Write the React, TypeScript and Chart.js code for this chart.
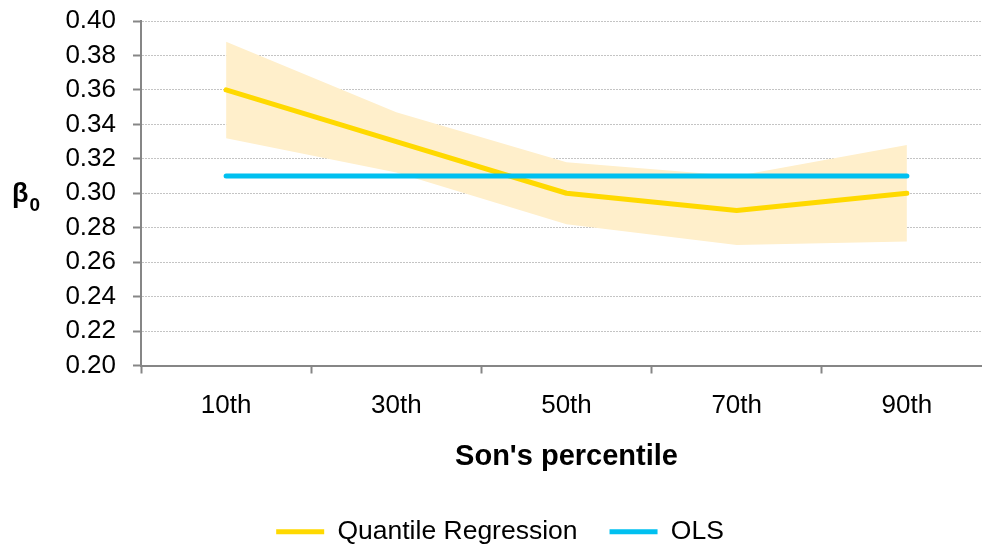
import React, { useEffect, useRef } from 'react';
import { Chart, registerables } from 'chart.js';

Chart.register(...registerables);

const categories = ['10th', '30th', '50th', '70th', '90th'];
const quantileRegression = [0.36, 0.33, 0.3, 0.29, 0.3];
const upperBound = [0.388, 0.347, 0.318, 0.31, 0.328];
const lowerBound = [0.332, 0.312, 0.282, 0.27, 0.272];
const ols = [0.31, 0.31, 0.31, 0.31, 0.31];
const yMin = 0.2;
const yMax = 0.4;
const yStep = 0.02;

const FONT = '"Liberation Sans", Arial, sans-serif';
const YELLOW = '#FFD900';
const BLUE = '#00C0F0';
const BAND = '#FFEFCB';
const AXIS = '#868686';

const betaTitle = {
  id: 'betaTitle',
  afterDraw(chart: any) {
    const { ctx, chartArea } = chart;
    const cy = (chartArea.top + chartArea.bottom) / 2;
    ctx.save();
    ctx.fillStyle = '#000';
    ctx.textAlign = 'left';
    ctx.textBaseline = 'alphabetic';
    ctx.font = `bold 27px ${FONT}`;
    ctx.fillText('β', 12, cy + 9);
    const w = ctx.measureText('β').width;
    ctx.font = `bold 19px ${FONT}`;
    ctx.fillText('0', 12 + w + 1, cy + 18);
    ctx.restore();
  },
};

export default function App() {
  const ref = useRef<HTMLCanvasElement | null>(null);

  useEffect(() => {
    if (!ref.current) return;
    const chart = new Chart(ref.current, {
      type: 'line',
      data: {
        labels: categories,
        datasets: [
          {
            label: 'Quantile Regression',
            data: quantileRegression,
            borderColor: YELLOW,
            backgroundColor: YELLOW,
            borderWidth: 5,
            borderCapStyle: 'round',
            borderJoinStyle: 'round',
            pointRadius: 0,
            fill: false,
            order: 1,
          },
          {
            label: 'OLS',
            data: ols,
            borderColor: BLUE,
            backgroundColor: BLUE,
            borderWidth: 5,
            borderCapStyle: 'round',
            pointRadius: 0,
            fill: false,
            order: 0,
          },
          {
            label: 'upper',
            data: upperBound,
            borderWidth: 0,
            borderColor: 'rgba(0,0,0,0)',
            backgroundColor: BAND,
            pointRadius: 0,
            fill: 3,
            order: 2,
          },
          {
            label: 'lower',
            data: lowerBound,
            borderWidth: 0,
            borderColor: 'rgba(0,0,0,0)',
            backgroundColor: BAND,
            pointRadius: 0,
            fill: false,
            order: 3,
          },
        ],
      },
      options: {
        animation: false,
        responsive: true,
        maintainAspectRatio: false,
        events: [],
        layout: { padding: { top: 21, right: 8, left: 8, bottom: 0 } },
        plugins: {
          filler: { drawTime: 'beforeDatasetsDraw' },
          tooltip: { enabled: false },
          legend: {
            position: 'bottom',
            labels: {
              boxWidth: 48,
              boxHeight: 5,
              padding: 32,
              color: '#000',
              font: { family: FONT, size: 26.5 },
              generateLabels: () => [
                { text: 'Quantile Regression', fillStyle: YELLOW, strokeStyle: YELLOW, lineWidth: 0, hidden: false, datasetIndex: 0 },
                { text: 'OLS', fillStyle: BLUE, strokeStyle: BLUE, lineWidth: 0, hidden: false, datasetIndex: 1 },
              ],
            },
          },
        },
        scales: {
          x: {
            type: 'category',
            offset: true,
            grid: {
              display: true,
              drawOnChartArea: false,
              offset: true,
              drawTicks: true,
              tickLength: 8,
              tickColor: AXIS,
              tickWidth: 2,
            },
            border: { display: true, color: AXIS, width: 2 },
            ticks: { color: '#000', font: { family: FONT, size: 26 }, padding: 17, maxRotation: 0 },
            title: {
              display: true,
              text: "Son's percentile",
              color: '#000',
              font: { family: FONT, size: 29, weight: 'bold' },
              padding: { top: 0, bottom: 12 },
            },
            afterFit: (s: any) => {
              s.height = 121;
            },
          },
          y: {
            min: yMin,
            max: yMax,
            grid: {
              color: '#c4c4c4',
              lineWidth: 1,
              tickLength: 8,
              tickColor: AXIS,
              tickWidth: 2,
              tickBorderDash: [],
            },
            border: { display: true, color: AXIS, width: 2, dash: [2, 1] },
            ticks: {
              stepSize: yStep,
              autoSkip: false,
              color: '#000',
              font: { family: FONT, size: 26 },
              padding: 17,
              callback: (v: any) => Number(v).toFixed(2),
            },
            afterFit: (s: any) => {
              s.width = 133;
              s.paddingTop = 0;
              s.paddingBottom = 0;
            },
          },
        },
      },
      plugins: [betaTitle],
    } as any);
    return () => chart.destroy();
  }, []);

  return (
    <div style={{ position: 'fixed', left: 0, top: 0, width: 982, height: 549, overflow: 'hidden', background: '#fff' }}>
      <div style={{ position: 'relative', width: 1000, height: 555 }}>
        <canvas ref={ref} />
      </div>
    </div>
  );
}
